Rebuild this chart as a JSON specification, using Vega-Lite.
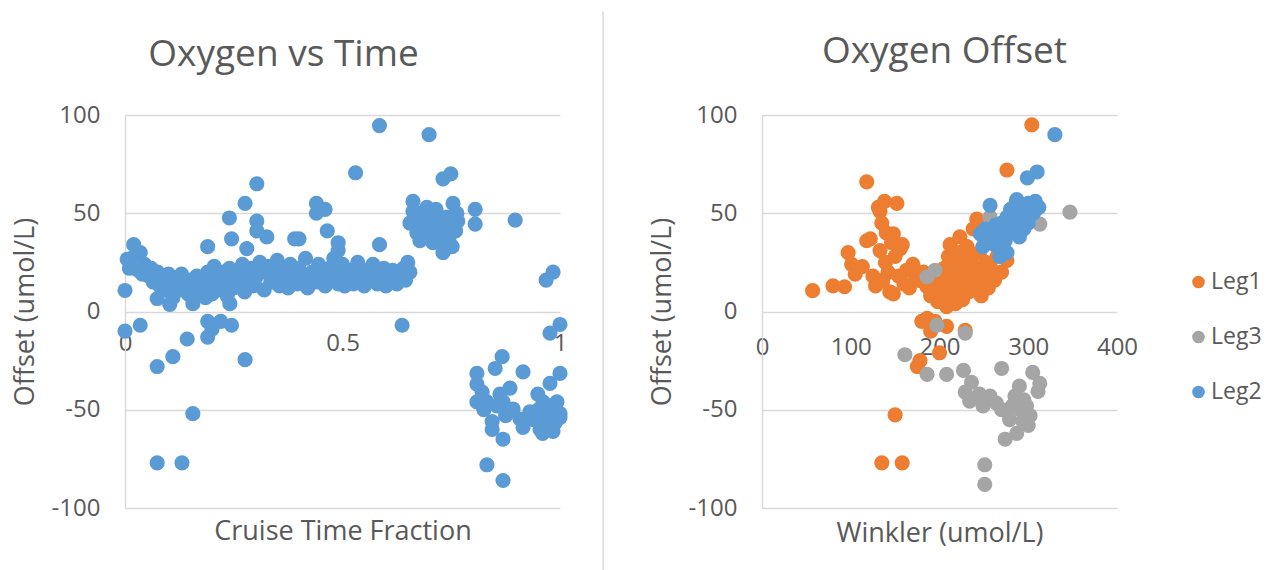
{
"$schema": "https://vega.github.io/schema/vega-lite/v6.json",
"background": "white",
"padding": {"left": 11, "top": 10, "right": 5, "bottom": 0},
"bounds": "flush",
"spacing": 202,
"config": {
 "font": "Open Sans",
 "view": {"stroke": null},
 "axis": {"labelColor": "#595959", "titleColor": "#595959", "labelFont": "Open Sans", "titleFont": "Open Sans", "labelFontSize": 24, "titleFontSize": 27, "titleFontWeight": "normal", "gridColor": "#d9d9d9", "gridWidth": 1.5, "domainColor": "#d9d9d9", "domainWidth": 1.5, "ticks": false, "tickSize": 0, "labelFlush": false},
 "title": {"font": "Open Sans", "fontSize": 37, "fontWeight": "normal", "color": "#595959"}
},
"datasets": {
 "time": [
  {"t":0.0,"o":10.7},{"t":0.005,"o":26.6},{"t":0.02,"o":34},{"t":0.035,"o":30},{"t":0.01,"o":22},{"t":0.015,"o":27},{"t":0.03,"o":21},{"t":0.04,"o":19},{"t":0.045,"o":24},{"t":0.055,"o":18},{"t":0.06,"o":22},{"t":0.065,"o":15},{"t":0.075,"o":20},{"t":0.08,"o":13},{"t":0.085,"o":17},{"t":0.095,"o":11},{"t":0.1,"o":19},{"t":0.105,"o":14},{"t":0.11,"o":7},{"t":0.12,"o":16},{"t":0.125,"o":11},{"t":0.13,"o":19},{"t":0.135,"o":13},{"t":0.145,"o":9},{"t":0.15,"o":16},{"t":0.155,"o":12},{"t":0.165,"o":18},{"t":0.17,"o":10},{"t":0.175,"o":14},{"t":0.185,"o":7},{"t":0.19,"o":20},{"t":0.195,"o":13},{"t":0.2,"o":9},{"t":0.205,"o":23},{"t":0.21,"o":17},{"t":0.215,"o":11},{"t":0.225,"o":20},{"t":0.23,"o":14},{"t":0.235,"o":8},{"t":0.24,"o":22},{"t":0.245,"o":17},{"t":0.25,"o":12},{"t":0.26,"o":20},{"t":0.265,"o":14},{"t":0.27,"o":24},{"t":0.275,"o":10},{"t":0.28,"o":18},{"t":0.29,"o":22},{"t":0.295,"o":13},{"t":0.3,"o":17},{"t":0.31,"o":25},{"t":0.315,"o":20},{"t":0.32,"o":11},{"t":0.33,"o":23},{"t":0.335,"o":15},{"t":0.34,"o":19},{"t":0.35,"o":26},{"t":0.355,"o":13},{"t":0.36,"o":21},{"t":0.37,"o":17},{"t":0.375,"o":12},{"t":0.38,"o":24},{"t":0.39,"o":19},{"t":0.395,"o":14},{"t":0.4,"o":22},{"t":0.41,"o":16},{"t":0.415,"o":27},{"t":0.42,"o":12},{"t":0.43,"o":20},{"t":0.44,"o":15},{"t":0.445,"o":24},{"t":0.455,"o":18},{"t":0.46,"o":13},{"t":0.47,"o":22},{"t":0.475,"o":16},{"t":0.48,"o":27},{"t":0.49,"o":14},{"t":0.495,"o":20},{"t":0.5,"o":24},{"t":0.505,"o":13},{"t":0.51,"o":17},{"t":0.52,"o":21},{"t":0.525,"o":14},{"t":0.535,"o":25},{"t":0.54,"o":18},{"t":0.55,"o":13},{"t":0.555,"o":21},{"t":0.565,"o":16},{"t":0.57,"o":24},{"t":0.58,"o":14},{"t":0.585,"o":19},{"t":0.595,"o":22},{"t":0.6,"o":13},{"t":0.61,"o":17},{"t":0.615,"o":21},{"t":0.625,"o":14},{"t":0.63,"o":19},{"t":0.64,"o":22},{"t":0.645,"o":16},{"t":0.65,"o":25},{"t":0.655,"o":20},
  {"t":0.19,"o":33},{"t":0.24,"o":47.6},{"t":0.245,"o":37},{"t":0.276,"o":55},{"t":0.28,"o":32},{"t":0.303,"o":65},{"t":0.303,"o":46},{"t":0.303,"o":41},{"t":0.326,"o":38},{"t":0.39,"o":37},{"t":0.40,"o":37},{"t":0.44,"o":55},{"t":0.44,"o":50},{"t":0.46,"o":52},{"t":0.465,"o":41},{"t":0.49,"o":35},{"t":0.49,"o":31},{"t":0.53,"o":70.6},{"t":0.585,"o":94.6},{"t":0.585,"o":34},
  {"t":0.074,"o":6.6},{"t":0.103,"o":3.6},{"t":0.156,"o":4},{"t":0.241,"o":4},
  {"t":0.0,"o":-10},{"t":0.035,"o":-7},{"t":0.074,"o":-28},{"t":0.11,"o":-23},{"t":0.143,"o":-14},{"t":0.19,"o":-5},{"t":0.19,"o":-13},{"t":0.2,"o":-9},{"t":0.22,"o":-5},{"t":0.245,"o":-7},{"t":0.276,"o":-24.5},{"t":0.074,"o":-77},{"t":0.131,"o":-77},{"t":0.156,"o":-52},{"t":0.637,"o":-7},
  {"t":0.662,"o":56},{"t":0.662,"o":51},{"t":0.655,"o":45},{"t":0.671,"o":40},{"t":0.694,"o":53},{"t":0.70,"o":47},{"t":0.717,"o":48},{"t":0.678,"o":36},{"t":0.708,"o":35},{"t":0.731,"o":42},{"t":0.754,"o":55},{"t":0.763,"o":50},{"t":0.754,"o":44},{"t":0.752,"o":33},{"t":0.731,"o":30},{"t":0.731,"o":37},{"t":0.731,"o":67.5},{"t":0.749,"o":70},{"t":0.699,"o":90},{"t":0.805,"o":52},{"t":0.805,"o":44.5},{"t":0.897,"o":46.5},{"t":0.968,"o":16},{"t":0.984,"o":20},{"t":1.0,"o":-6.6},{"t":0.977,"o":-11},
  {"t":0.665,"o":48},{"t":0.685,"o":43},{"t":0.69,"o":38},{"t":0.70,"o":41},{"t":0.71,"o":44},{"t":0.72,"o":39},{"t":0.725,"o":45},{"t":0.74,"o":40},{"t":0.745,"o":36},{"t":0.76,"o":41},{"t":0.675,"o":50},{"t":0.715,"o":52},{"t":0.74,"o":48},{"t":0.765,"o":46},
  {"t":0.809,"o":-31.5},{"t":0.867,"o":-23},{"t":0.851,"o":-29},{"t":0.915,"o":-30.7},{"t":1.0,"o":-31.5},{"t":0.977,"o":-36.6},{"t":0.809,"o":-37},{"t":0.862,"o":-42},{"t":0.949,"o":-42},{"t":0.809,"o":-46},{"t":0.832,"o":-46},{"t":0.869,"o":-46},{"t":0.892,"o":-49.6},{"t":0.961,"o":-46},{"t":0.993,"o":-46},{"t":0.844,"o":-56},{"t":0.844,"o":-60},{"t":0.908,"o":-54.7},{"t":0.915,"o":-59},{"t":0.954,"o":-60},{"t":0.984,"o":-61},{"t":1.0,"o":-54},{"t":0.869,"o":-65},{"t":0.832,"o":-78},{"t":0.869,"o":-86},{"t":0.931,"o":-51},{"t":0.972,"o":-51},{"t":0.988,"o":-57},{"t":0.966,"o":-55},{"t":1.0,"o":-52},{"t":0.821,"o":-41},{"t":0.885,"o":-39},{"t":0.94,"o":-55},{"t":0.95,"o":-50},{"t":0.97,"o":-58},{"t":0.98,"o":-48},{"t":0.99,"o":-50},{"t":0.825,"o":-50},{"t":0.855,"o":-48},{"t":0.96,"o":-62},{"t":0.875,"o":-53}
 ],
 "winkler": [
  {"w":57,"o":10.6,"leg":"Leg1"},{"w":80,"o":13,"leg":"Leg1"},{"w":93,"o":12.6,"leg":"Leg1"},{"w":97,"o":30,"leg":"Leg1"},{"w":101,"o":24,"leg":"Leg1"},{"w":105,"o":19,"leg":"Leg1"},{"w":113,"o":22.8,"leg":"Leg1"},{"w":118,"o":66,"leg":"Leg1"},{"w":118,"o":36,"leg":"Leg1"},{"w":122,"o":37,"leg":"Leg1"},{"w":125,"o":18,"leg":"Leg1"},{"w":128,"o":13,"leg":"Leg1"},{"w":131,"o":53,"leg":"Leg1"},{"w":133,"o":51,"leg":"Leg1"},{"w":133,"o":31,"leg":"Leg1"},{"w":135,"o":45,"leg":"Leg1"},{"w":136,"o":15.7,"leg":"Leg1"},{"w":138,"o":56,"leg":"Leg1"},{"w":139,"o":25,"leg":"Leg1"},{"w":140,"o":40,"leg":"Leg1"},{"w":142,"o":20,"leg":"Leg1"},{"w":144,"o":10,"leg":"Leg1"},{"w":146,"o":35,"leg":"Leg1"},{"w":148,"o":39.5,"leg":"Leg1"},{"w":148,"o":9,"leg":"Leg1"},{"w":150,"o":28,"leg":"Leg1"},{"w":152,"o":55,"leg":"Leg1"},{"w":154,"o":18,"leg":"Leg1"},{"w":156,"o":32,"leg":"Leg1"},{"w":158,"o":34,"leg":"Leg1"},{"w":160,"o":14,"leg":"Leg1"},{"w":163,"o":21,"leg":"Leg1"},{"w":166,"o":12,"leg":"Leg1"},{"w":170,"o":24,"leg":"Leg1"},{"w":173,"o":18,"leg":"Leg1"},{"w":178,"o":15.7,"leg":"Leg1"},{"w":182,"o":20,"leg":"Leg1"},{"w":186,"o":12.6,"leg":"Leg1"},{"w":190,"o":8,"leg":"Leg1"},{"w":194,"o":14,"leg":"Leg1"},{"w":198,"o":5,"leg":"Leg1"},{"w":200,"o":18,"leg":"Leg1"},{"w":203,"o":10,"leg":"Leg1"},{"w":205,"o":22,"leg":"Leg1"},{"w":208,"o":2.5,"leg":"Leg1"},{"w":208,"o":14,"leg":"Leg1"},{"w":210,"o":28,"leg":"Leg1"},{"w":212,"o":34,"leg":"Leg1"},{"w":213,"o":8,"leg":"Leg1"},{"w":215,"o":18,"leg":"Leg1"},{"w":217,"o":25,"leg":"Leg1"},{"w":218,"o":4,"leg":"Leg1"},{"w":220,"o":12,"leg":"Leg1"},{"w":222,"o":30,"leg":"Leg1"},{"w":223,"o":38,"leg":"Leg1"},{"w":224,"o":20,"leg":"Leg1"},{"w":226,"o":6,"leg":"Leg1"},{"w":228,"o":15,"leg":"Leg1"},{"w":230,"o":24,"leg":"Leg1"},{"w":231,"o":33,"leg":"Leg1"},{"w":233,"o":10,"leg":"Leg1"},{"w":235,"o":19,"leg":"Leg1"},{"w":237,"o":28,"leg":"Leg1"},{"w":238,"o":42,"leg":"Leg1"},{"w":240,"o":14,"leg":"Leg1"},{"w":242,"o":47,"leg":"Leg1"},{"w":243,"o":22,"leg":"Leg1"},{"w":245,"o":30,"leg":"Leg1"},{"w":247,"o":8,"leg":"Leg1"},{"w":250,"o":18,"leg":"Leg1"},{"w":252,"o":25,"leg":"Leg1"},{"w":255,"o":12,"leg":"Leg1"},{"w":258,"o":22,"leg":"Leg1"},{"w":262,"o":16,"leg":"Leg1"},{"w":265,"o":28,"leg":"Leg1"},{"w":270,"o":20,"leg":"Leg1"},{"w":276,"o":26,"leg":"Leg1"},{"w":276,"o":72,"leg":"Leg1"},{"w":304,"o":95,"leg":"Leg1"},{"w":186,"o":-3.5,"leg":"Leg1"},{"w":208,"o":-7.6,"leg":"Leg1"},{"w":229,"o":-9.6,"leg":"Leg1"},{"w":195,"o":-5,"leg":"Leg1"},{"w":200,"o":-21,"leg":"Leg1"},{"w":178,"o":-25,"leg":"Leg1"},{"w":175,"o":-28,"leg":"Leg1"},{"w":150,"o":-52.6,"leg":"Leg1"},{"w":135,"o":-77,"leg":"Leg1"},{"w":158,"o":-77,"leg":"Leg1"},{"w":190,"o":-10,"leg":"Leg1"},{"w":180,"o":-5,"leg":"Leg1"},
  {"w":186,"o":17.7,"leg":"Leg3"},{"w":195,"o":21,"leg":"Leg3"},{"w":197,"o":-7,"leg":"Leg3"},{"w":229,"o":-11,"leg":"Leg3"},{"w":161,"o":-22,"leg":"Leg3"},{"w":257,"o":48,"leg":"Leg3"},{"w":313,"o":44.5,"leg":"Leg3"},{"w":347,"o":50.6,"leg":"Leg3"},{"w":186,"o":-32,"leg":"Leg3"},{"w":208,"o":-32,"leg":"Leg3"},{"w":227,"o":-30,"leg":"Leg3"},{"w":236,"o":-36,"leg":"Leg3"},{"w":229,"o":-41,"leg":"Leg3"},{"w":234,"o":-45.6,"leg":"Leg3"},{"w":249,"o":-48,"leg":"Leg3"},{"w":257,"o":-43,"leg":"Leg3"},{"w":264,"o":-46.6,"leg":"Leg3"},{"w":270,"o":-29,"leg":"Leg3"},{"w":285,"o":-43,"leg":"Leg3"},{"w":291,"o":-50,"leg":"Leg3"},{"w":302,"o":-53,"leg":"Leg3"},{"w":279,"o":-55,"leg":"Leg3"},{"w":287,"o":-62,"leg":"Leg3"},{"w":274,"o":-65,"leg":"Leg3"},{"w":305,"o":-31,"leg":"Leg3"},{"w":313,"o":-36.6,"leg":"Leg3"},{"w":311,"o":-40.7,"leg":"Leg3"},{"w":251,"o":-78,"leg":"Leg3"},{"w":251,"o":-88,"leg":"Leg3"},{"w":295,"o":-45,"leg":"Leg3"},{"w":300,"o":-58,"leg":"Leg3"},{"w":282,"o":-48,"leg":"Leg3"},{"w":294,"o":-56,"leg":"Leg3"},{"w":245,"o":-42,"leg":"Leg3"},{"w":270,"o":-50,"leg":"Leg3"},{"w":290,"o":-38,"leg":"Leg3"},{"w":298,"o":-48,"leg":"Leg3"},
  {"w":257,"o":54,"leg":"Leg2"},{"w":246,"o":39.5,"leg":"Leg2"},{"w":249,"o":33,"leg":"Leg2"},{"w":252,"o":42,"leg":"Leg2"},{"w":255,"o":36,"leg":"Leg2"},{"w":260,"o":40,"leg":"Leg2"},{"w":263,"o":44,"leg":"Leg2"},{"w":266,"o":38,"leg":"Leg2"},{"w":270,"o":45,"leg":"Leg2"},{"w":272,"o":31,"leg":"Leg2"},{"w":274,"o":36,"leg":"Leg2"},{"w":276,"o":48,"leg":"Leg2"},{"w":278,"o":42,"leg":"Leg2"},{"w":280,"o":52,"leg":"Leg2"},{"w":282,"o":46,"leg":"Leg2"},{"w":284,"o":40,"leg":"Leg2"},{"w":286,"o":55,"leg":"Leg2"},{"w":287,"o":57,"leg":"Leg2"},{"w":288,"o":50,"leg":"Leg2"},{"w":290,"o":44,"leg":"Leg2"},{"w":292,"o":48,"leg":"Leg2"},{"w":294,"o":53,"leg":"Leg2"},{"w":296,"o":47,"leg":"Leg2"},{"w":298,"o":51,"leg":"Leg2"},{"w":299,"o":68,"leg":"Leg2"},{"w":300,"o":55,"leg":"Leg2"},{"w":302,"o":49,"leg":"Leg2"},{"w":304,"o":52,"leg":"Leg2"},{"w":305,"o":54.7,"leg":"Leg2"},{"w":306,"o":50,"leg":"Leg2"},{"w":308,"o":56,"leg":"Leg2"},{"w":310,"o":71,"leg":"Leg2"},{"w":312,"o":53,"leg":"Leg2"},{"w":262,"o":34,"leg":"Leg2"},{"w":268,"o":28,"leg":"Leg2"},{"w":276,"o":30,"leg":"Leg2"},{"w":300,"o":45,"leg":"Leg2"},{"w":330,"o":90,"leg":"Leg2"},{"w":290,"o":38,"leg":"Leg2"},{"w":295,"o":42,"leg":"Leg2"}
 ]
},
"hconcat": [
 {
  "width": 435, "height": 393,
  "title": {"text": "Oxygen vs Time", "dx": -59, "offset": -63.5},
  "layer": [
   {
    "data": {"name": "time"},
    "mark": {"type": "circle", "size": 230, "opacity": 1, "color": "#5b9bd5"},
    "encoding": {
     "x": {"field": "t", "type": "quantitative", "scale": {"domain": [0, 1], "nice": false}, "axis": {"values": [0, 0.5, 1], "format": "~g", "title": "Cruise Time Fraction", "grid": false, "domain": false, "offset": -196.5, "labelPadding": 20, "titlePadding": 163}},
     "y": {"field": "o", "type": "quantitative", "scale": {"domain": [-100, 100], "nice": false}, "axis": {"values": [-100, -50, 0, 50, 100], "labelExpr": "datum.value < 0 ? '-' + abs(datum.value) : '' + datum.value", "title": "Offset (umol/L)", "labelPadding": 25, "titlePadding": 12}}
    }
   },
   {
    "data": {"values": [{}]},
    "mark": {"type": "rule", "color": "#d9d9d9", "strokeWidth": 1.5},
    "encoding": {"x": {"datum": 1.099}, "y": {"datum": 152.7}, "y2": {"datum": -132.3}}
   }
  ]
 },
 {
  "width": 355, "height": 393,
  "title": {"text": "Oxygen Offset", "dx": 5, "offset": 32.5},
  "data": {"name": "winkler"},
  "mark": {"type": "circle", "size": 230, "opacity": 1},
  "encoding": {
   "x": {"field": "w", "type": "quantitative", "scale": {"domain": [0, 400], "nice": false}, "axis": {"values": [0, 100, 200, 300, 400], "title": "Winkler (umol/L)", "grid": false, "domain": false, "offset": -196.5, "labelPadding": 24, "titlePadding": 161}},
   "y": {"field": "o", "type": "quantitative", "scale": {"domain": [-100, 100], "nice": false}, "axis": {"values": [-100, -50, 0, 50, 100], "labelExpr": "datum.value < 0 ? '-' + abs(datum.value) : '' + datum.value", "title": "Offset (umol/L)", "labelPadding": 25, "titlePadding": 12}},
   "color": {"field": "leg", "type": "nominal", "scale": {"domain": ["Leg1", "Leg3", "Leg2"], "range": ["#ed7d31", "#a5a5a5", "#5b9bd5"]}, "legend": {"title": null, "orient": "none", "legendX": 1062, "legendY": 155.5, "symbolType": "circle", "symbolSize": 160, "symbolStrokeWidth": 0, "labelFontSize": 23, "labelFont": "Open Sans", "labelColor": "#595959", "rowPadding": 31, "labelOffset": 1}}
  }
 }
]
}
